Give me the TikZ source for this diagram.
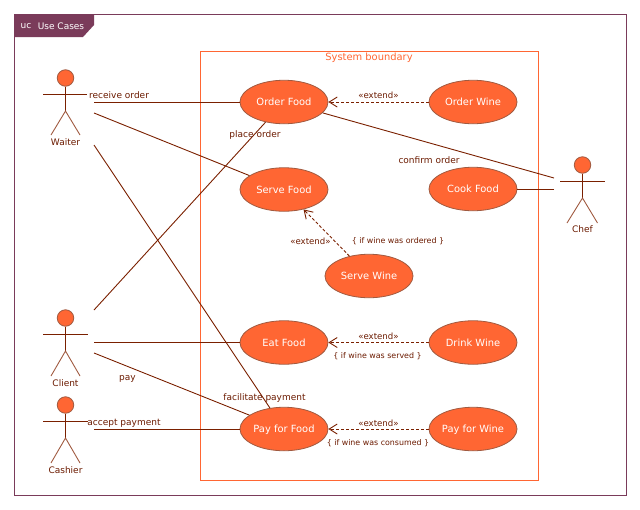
\documentclass[tikz,border=0pt]{standalone}
\usepackage{fontspec}
\setmainfont{DejaVu Sans}
\usetikzlibrary{shapes.geometric,arrows.meta}
\definecolor{linecol}{HTML}{7A2000}
\definecolor{legcol}{HTML}{A05A40}
\definecolor{textcol}{HTML}{6B1A00}
\definecolor{framecol}{HTML}{7A3B5A}
\definecolor{casecol}{HTML}{FF6633}
\tikzset{
  usecase/.style={ellipse,draw=legcol,fill=casecol,line width=0.8pt,minimum width=88pt,minimum height=43.5pt,inner sep=0pt,text=white,text height=7.5pt,text depth=0pt,font=\fontsize{9.9}{11}\selectfont},
  head/.style={circle,draw=legcol,fill=casecol,line width=0.8pt,minimum size=16.5pt,inner sep=0pt},
  lbl/.style={text=textcol,inner sep=0pt,font=\fontsize{9}{10}\selectfont},
  cond/.style={text=textcol,inner sep=0pt,font=\fontsize{7.9}{10}\selectfont},
  ext/.style={text=textcol,inner sep=0pt,font=\fontsize{8.6}{10}\selectfont},
  assoc/.style={draw=linecol,line width=0.9pt},
  leg/.style={draw=legcol,line width=0.9pt},
  extend/.style={draw=linecol,line width=0.9pt,dash pattern=on 3pt off 2pt,-{Straight Barb[length=8pt,width=10pt,line width=0.9pt]}}
}
\begin{document}
\begin{tikzpicture}[x=1pt,y=-1pt]
    \useasboundingbox (0,0) rectangle (640,509);

% Frame
    \draw[framecol,line width=1pt] (14.5,14.5) rectangle (626,495);
    \fill[framecol] (14,14) -- (94,14) -- (94,25) -- (83,37) -- (14,37) -- cycle;
    \node[lbl,text=white] (uc) at (26,26) {uc};
    \node[lbl,text=white] (ucname) at (61,26.5) {Use Cases};

% System boundary
    \draw[casecol,line width=0.9pt] (200.5,51.5) rectangle (538,480);
    \node[lbl,text=casecol,font=\fontsize{9.9}{11}\selectfont] (sysname) at (369,58) {System boundary};

% Use cases
    \node[usecase] (orderfood) at (284,102) {Order Food};
    \node[usecase] (servefood) at (284,189.5) {Serve Food};
    \node[usecase] (eatfood) at (284,342.5) {Eat Food};
    \node[usecase] (payfood) at (284,429) {Pay for Food};
    \node[usecase] (orderwine) at (473,102) {Order Wine};
    \node[usecase] (cookfood) at (473,189) {Cook Food};
    \node[usecase] (servewine) at (369,276) {Serve Wine};
    \node[usecase] (drinkwine) at (473,342.5) {Drink Wine};
    \node[usecase] (paywine) at (473,429) {Pay for Wine};

% Waiter
    \node[head] (w0) at (65.5,78) {};
    \coordinate (w1) at (65.5,111);
    \coordinate (w2) at (43,94.5);
    \coordinate (w3) at (87,94.5);
    \coordinate (w4) at (51,135);
    \coordinate (w5) at (80,135);
    \draw[assoc] (w0) -- (w1);
    \draw[assoc] (w2) -- (w3);
    \draw[leg] (w4) -- (w1) -- (w5);
    \node[lbl] (waiter) at (65.5,142.5) {Waiter};

% Client
    \node[head] (c0) at (65.5,318) {};
    \coordinate (c1) at (65.5,351);
    \coordinate (c2) at (43,334.5);
    \coordinate (c3) at (88,334.5);
    \coordinate (c4) at (51,376);
    \coordinate (c5) at (80,376);
    \draw[assoc] (c0) -- (c1);
    \draw[assoc] (c2) -- (c3);
    \draw[leg] (c4) -- (c1) -- (c5);
    \node[lbl] (client) at (65.5,383) {Client};

% Cashier
    \node[head] (k0) at (65.5,405) {};
    \coordinate (k1) at (65.5,438);
    \coordinate (k2) at (43,421.5);
    \coordinate (k3) at (88,421.5);
    \coordinate (k4) at (51,463);
    \coordinate (k5) at (80,463);
    \draw[assoc] (k0) -- (k1);
    \draw[assoc] (k2) -- (k3);
    \draw[leg] (k4) -- (k1) -- (k5);
    \node[lbl] (cashier) at (65.5,470.5) {Cashier};

% Chef
    \node[head] (h0) at (582.5,165) {};
    \coordinate (h1) at (582.5,198);
    \coordinate (h2) at (560,181.5);
    \coordinate (h3) at (605,181.5);
    \coordinate (h4) at (567,223);
    \coordinate (h5) at (597.5,223);
    \draw[assoc] (h0) -- (h1);
    \draw[assoc] (h2) -- (h3);
    \draw[leg] (h4) -- (h1) -- (h5);
    \node[lbl] (chef) at (582.5,229.5) {Chef};

% Associations
    \coordinate (a1) at (94,102);
    \coordinate (a2) at (94,113);
    \coordinate (a3) at (94,145);
    \coordinate (a4) at (94,310);
    \coordinate (a5) at (94,342.5);
    \coordinate (a6) at (94,353);
    \coordinate (a7) at (94,429);
    \coordinate (a8) at (554,178);
    \coordinate (a9) at (554,189);

    \draw[assoc] (a1) -- (orderfood);
    \draw[assoc] (a2) -- (servefood);
    \draw[assoc] (a3) -- (payfood);
    \draw[assoc] (a4) -- (orderfood);
    \draw[assoc] (a5) -- (eatfood);
    \draw[assoc] (a6) -- (payfood);
    \draw[assoc] (a7) -- (payfood);
    \draw[assoc] (a8) -- (orderfood);
    \draw[assoc] (a9) -- (cookfood);

    \node[lbl,anchor=west] (receive) at (89,95) {receive order};
    \node[lbl] (place) at (255,135) {place order};
    \node[lbl] (confirm) at (429,160) {confirm order};
    \node[lbl] (pay) at (127.5,378.5) {pay};
    \node[lbl] (accept) at (124,423.5) {accept payment};
    \node[lbl] (facilitate) at (264.5,398) {facilitate payment};

% Extends
    \draw[extend] (orderwine) -- (orderfood);
    \draw[extend] (servewine) -- (servefood);
    \draw[extend] (drinkwine) -- (eatfood);
    \draw[extend] (paywine) -- (payfood);

    \node[ext] (ext1) at (378.5,95) {«extend»};
    \node[ext] (ext2) at (310.5,241.5) {«extend»};
    \node[ext] (ext3) at (378.5,336) {«extend»};
    \node[ext] (ext4) at (378.5,423) {«extend»};

    \node[cond] (cond1) at (398,241.5) {\{ if wine was ordered \}};
    \node[cond] (cond2) at (377.5,356) {\{ if wine was served \}};
    \node[cond] (cond3) at (378,443.5) {\{ if wine was consumed \}};
\end{tikzpicture}
\end{document}
